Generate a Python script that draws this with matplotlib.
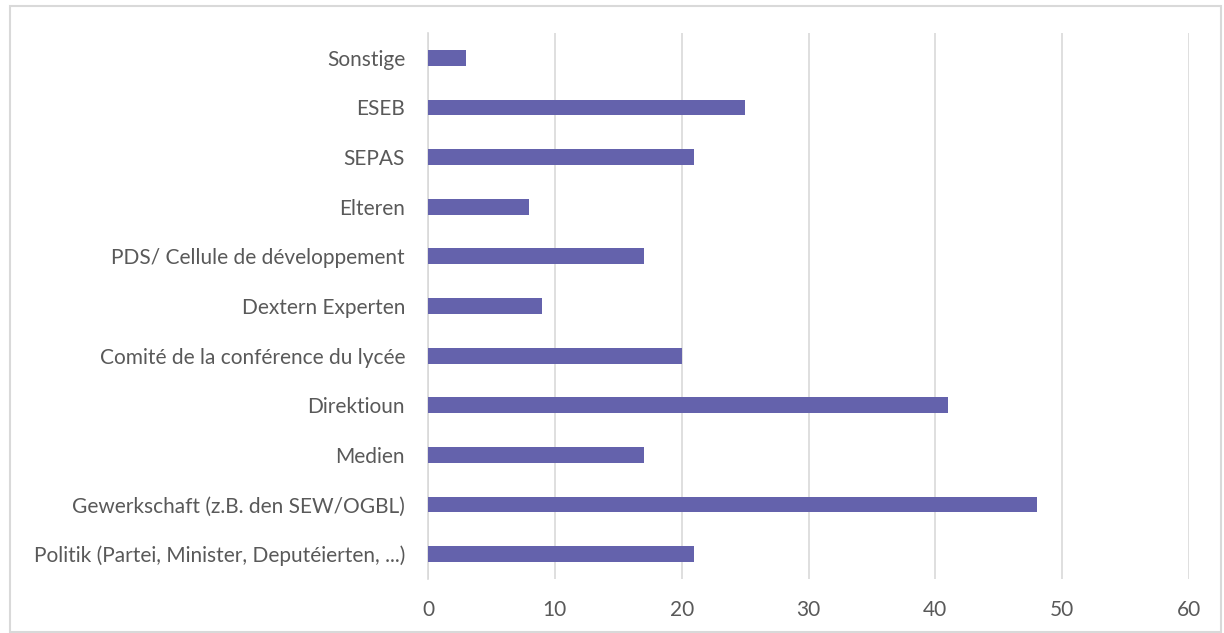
import matplotlib
matplotlib.use("Agg")
import matplotlib.pyplot as plt
from matplotlib.patches import Rectangle

plt.rcParams["font.family"] = ["Lato", "DejaVu Sans"]

# Data, bottom to top as drawn
categories = [
    "Politik (Partei, Minister, Deputéierten, ...)",
    "Gewerkschaft (z.B. den SEW/OGBL)",
    "Medien",
    "Direktioun",
    "Comité de la conférence du lycée",
    "Dextern Experten",
    "PDS/ Cellule de développement",
    "Elteren",
    "SEPAS",
    "ESEB",
    "Sonstige",
]
values = [21, 48, 17, 41, 20, 9, 17, 8, 21, 25, 3]
xticks = [0, 10, 20, 30, 40, 50, 60]

text_color = "#595959"
bar_color = "#6462AC"
grid_color = "#D9D9D9"

fig = plt.figure(figsize=(12.24, 6.33), dpi=100)
ax = fig.add_axes([428 / 1224, 1 - 579 / 633, (1189 - 428) / 1224, (579 - 33) / 633])

ypos = list(range(len(categories)))
ax.barh(ypos, values, height=0.32, color=bar_color, zorder=3)

ax.set_xlim(0, 60)
ax.set_ylim(-0.5, len(categories) - 0.5)
ax.set_xticks(xticks)
ax.set_xticklabels([str(t) for t in xticks])
ax.set_yticks(ypos)
ax.set_yticklabels(categories)

ax.grid(axis="x", color=grid_color, linewidth=1.2, zorder=0)
ax.tick_params(axis="both", length=0, labelsize=15, colors=text_color)
ax.tick_params(axis="x", pad=15)
ax.tick_params(axis="y", pad=16.5)
for s in ["top", "right", "bottom"]:
    ax.spines[s].set_visible(False)
ax.spines["left"].set_color(grid_color)
ax.spines["left"].set_linewidth(1.2)

# light frame around chart area
fig.patches.append(Rectangle((10 / 1224, 1 / 633), 1211 / 1224, 626 / 633,
                             transform=fig.transFigure, fill=False,
                             edgecolor="#D9D9D9", linewidth=1.5))

fig.savefig("out.png", dpi=100)
